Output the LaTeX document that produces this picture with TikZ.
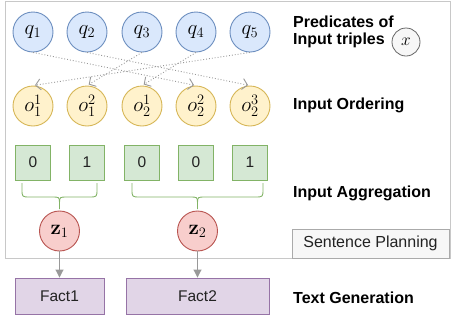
\documentclass[tikz,border=0pt]{standalone}
\usepackage{amsmath}
\usepackage[no-math]{fontspec}
\setmainfont{Liberation Sans}
\usetikzlibrary{arrows.meta}
\definecolor{qfill}{HTML}{DAE8FC}
\definecolor{qline}{HTML}{6C8EBF}
\definecolor{ofill}{HTML}{FFF2CC}
\definecolor{oline}{HTML}{D6B656}
\definecolor{gfill}{HTML}{D5E8D4}
\definecolor{gline}{HTML}{82B366}
\definecolor{zfill}{HTML}{F8CECC}
\definecolor{zline}{HTML}{B85450}
\definecolor{pfill}{HTML}{E1D5E7}
\definecolor{pline}{HTML}{9673A6}
\definecolor{arrcol}{HTML}{999999}
\definecolor{framecol}{HTML}{C8C8C8}
\definecolor{spfill}{HTML}{F7F7F7}
\definecolor{spline}{HTML}{AAAAAA}
\definecolor{txtcol}{HTML}{222222}
\newcommand\mysz{\fontsize{20.74}{22}\selectfont}
\newcommand\lblsz{\fontsize{16}{18}\selectfont}
\newcommand\boxsz{\fontsize{15.5}{18}\selectfont}
\begin{document}
\begin{tikzpicture}[x=1pt,y=-1pt,
  circ/.style={circle, minimum size=40pt, inner sep=0pt, line width=0.9pt, font=\mysz},
  qnode/.style={circ, draw=qline, fill=qfill},
  onode/.style={circ, draw=oline, fill=ofill},
  znode/.style={circ, draw=zline, fill=zfill},
  gbox/.style={rectangle, draw=gline, fill=gfill, minimum width=35pt, minimum height=35pt, inner sep=0pt, line width=0.9pt, font=\boxsz, text=txtcol},
  pbox/.style={rectangle, draw=pline, fill=pfill, minimum height=36pt, inner sep=0pt, line width=0.9pt, font=\boxsz, text=txtcol},
  lbl/.style={anchor=base west, inner sep=0pt, font=\lblsz\bfseries},
  dotarrow/.style={draw=arrcol, line width=0.9pt, dotted, -{Straight Barb[length=5pt,width=11pt]}, shorten >=2pt},
  solarrow/.style={draw=arrcol, line width=0.9pt, -{Triangle[length=8pt,width=8pt]}},
  bracestyle/.style={draw=gline, line width=0.9pt, line join=round}
]
\useasboundingbox (0,0) rectangle (451,322);
% frame
\draw[framecol, line width=0.9pt] (5,1) rectangle (450,258);
\node[rectangle, draw=spline, fill=spfill, minimum width=157pt, minimum height=29pt, inner sep=0pt, line width=0.9pt, font=\lblsz, text=txtcol] (sp) at (370.5,243.5) {Sentence Planning};
% predicates
\node[qnode] (q1) at (33,32) {$q_1$};
\node[qnode] (q2) at (87,32) {$q_2$};
\node[qnode] (q3) at (142,32) {$q_3$};
\node[qnode] (q4) at (196,32) {$q_4$};
\node[qnode] (q5) at (250,32) {$q_5$};
% orderings
\node[onode] (o1) at (33,106) {$o_1^1$};
\node[onode] (o2) at (87,106) {$o_1^2$};
\node[onode] (o3) at (142,106) {$o_2^1$};
\node[onode] (o4) at (196,106) {$o_2^2$};
\node[onode] (o5) at (250,106) {$o_2^3$};
% dotted arrows
\draw[dotarrow] (q1.south) -- (o4.north);
\draw[dotarrow] (q2.south) -- (o5.north);
\draw[dotarrow] (q3.south) -- (o2.north);
\draw[dotarrow] (q4.south) -- (o3.north);
\draw[dotarrow] (q5.south) -- (o1.north);
% aggregation boxes
\node[gbox] (b1) at (33,162.5) {0};
\node[gbox] (b2) at (87,162.5) {1};
\node[gbox] (b3) at (142,162.5) {0};
\node[gbox] (b4) at (196,162.5) {0};
\node[gbox] (b5) at (250,162.5) {1};
% braces
\draw[bracestyle] (22,183) -- (22,189) .. controls (22,197) .. (30,197) -- (51.5,197) .. controls (59.5,197) .. (59.5,203) -- (59.5,209);
\draw[bracestyle] (97,183) -- (97,189) .. controls (97,197) .. (89,197) -- (67.5,197) .. controls (59.5,197) .. (59.5,203);
\draw[bracestyle] (132,183) -- (132,189) .. controls (132,197) .. (140,197) -- (189.5,197) .. controls (197.5,197) .. (197.5,203) -- (197.5,209);
\draw[bracestyle] (263,183) -- (263,189) .. controls (263,197) .. (255,197) -- (205.5,197) .. controls (197.5,197) .. (197.5,203);
% sentence nodes
\node[znode] (z1) at (59.5,231) {$\mathbf{z}_1$};
\node[znode] (z2) at (197.5,231) {$\mathbf{z}_2$};
% facts
\node[pbox, minimum width=89pt] (f1) at (59.5,296) {Fact1};
\node[pbox, minimum width=143pt] (f2) at (197.5,296) {Fact2};
\draw[solarrow] (z1) -- (f1);
\draw[solarrow] (z2) -- (f2);
% labels
\node[lbl] (l1) at (293,27) {Predicates of};
\node[lbl] (l2) at (293,44) {Input triples};
\node[circle, draw=black!60, fill=black!3, minimum size=28pt, inner sep=0pt, line width=0.8pt, font=\fontsize{17.28}{18}\selectfont] (xx) at (406,42) {$x$};
\node[lbl] (l3) at (293,109) {Input Ordering};
\node[lbl] (l4) at (293,197) {Input Aggregation};
\node[lbl] (l5) at (293,303) {Text Generation};
\end{tikzpicture}
\end{document}
